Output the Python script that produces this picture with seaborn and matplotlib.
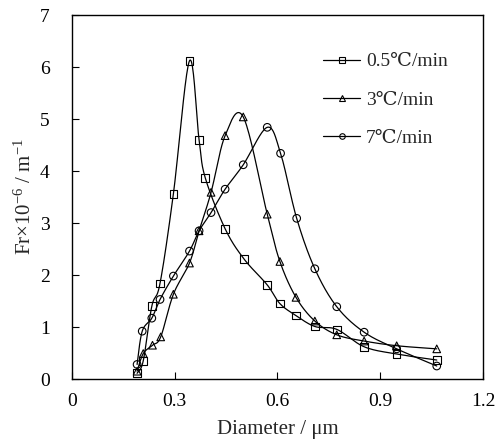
import numpy as np
import pandas as pd
import seaborn as sns
import matplotlib
matplotlib.use("Agg")
import matplotlib.pyplot as plt
from matplotlib.lines import Line2D

# values
x_05 = [0.190, 0.208, 0.233, 0.257, 0.296, 0.343, 0.371, 0.389, 0.447, 0.502,
        0.570, 0.607, 0.654, 0.709, 0.773, 0.853, 0.948, 1.065]
y_05 = [0.11, 0.35, 1.40, 1.84, 3.56, 6.12, 4.60, 3.87, 2.89, 2.31,
        1.81, 1.45, 1.22, 1.01, 0.955, 0.62, 0.48, 0.365]

x_3 = [0.190, 0.208, 0.235, 0.259, 0.296, 0.343, 0.371, 0.406, 0.447, 0.500,
       0.570, 0.607, 0.654, 0.709, 0.773, 0.853, 0.948, 1.065]
y_3 = [0.15, 0.49, 0.65, 0.81, 1.63, 2.23, 2.85, 3.59, 4.68, 5.04,
       3.17, 2.26, 1.57, 1.115, 0.85, 0.73, 0.64, 0.58]

x_7 = [0.190, 0.205, 0.233, 0.257, 0.296, 0.343, 0.371, 0.406, 0.447, 0.500,
       0.570, 0.609, 0.656, 0.709, 0.773, 0.853, 0.948, 1.065]
y_7 = [0.28, 0.92, 1.17, 1.53, 1.98, 2.46, 2.85, 3.20, 3.65, 4.12,
       4.84, 4.34, 3.09, 2.12, 1.39, 0.90, 0.58, 0.25]

labels = ["0.5℃/min", "3℃/min", "7℃/min"]
markers = ["s", "^", "o"]
x_ticks = [0, 0.3, 0.6, 0.9, 1.2]
y_ticks = [0, 1, 2, 3, 4, 5, 6, 7]


def smooth(xs, ys, n=20):
    # excel style smoothed line: uniform catmull-rom through the points
    p = np.column_stack([xs, ys]).astype(float)
    p = np.vstack([p[0], p, p[-1]])
    out = []
    t = np.linspace(0, 1, n, endpoint=False)[:, None]
    for i in range(1, len(p) - 2):
        p0, p1, p2, p3 = p[i - 1], p[i], p[i + 1], p[i + 2]
        c1 = p1 + (p2 - p0) / 6
        c2 = p2 - (p3 - p1) / 6
        seg = ((1 - t) ** 3) * p1 + 3 * ((1 - t) ** 2) * t * c1 + 3 * (1 - t) * t ** 2 * c2 + t ** 3 * p2
        out.append(seg)
    out.append(p[-2][None, :])
    out = np.vstack(out)
    return out[:, 0], out[:, 1]


sns.set_style("ticks")
plt.rcParams["font.family"] = ["Liberation Serif", "DejaVu Serif"]
plt.rcParams["mathtext.fontset"] = "custom"
plt.rcParams["mathtext.rm"] = "Liberation Serif"
plt.rcParams["mathtext.it"] = "Liberation Serif:italic"

fig = plt.figure(figsize=(4.97, 4.40), dpi=100)
ax = fig.add_axes([0.1449, 0.1386, 0.8269, 0.8273])

series = [(x_05, y_05), (x_3, y_3), (x_7, y_7)]
handles = []
for (xs, ys), lab, mk in zip(series, labels, markers):
    sx, sy = smooth(xs, ys)
    curve = pd.DataFrame({"x": sx, "y": sy})
    pts = pd.DataFrame({"x": xs, "y": ys})
    sns.lineplot(data=curve, x="x", y="y", ax=ax, color="black", lw=0.9,
                 sort=False, estimator=None)
    sns.scatterplot(data=pts, x="x", y="y", ax=ax, marker=mk, s=30,
                    facecolor="none", edgecolor="black", linewidth=0.8, zorder=3)
    handles.append(Line2D([], [], color="black", lw=0.9, marker=mk, markersize=4,
                          mfc="none", mec="black", mew=0.8))

ax.set_xlim(0, 1.2)
ax.set_ylim(0, 7)
ax.set_xticks(x_ticks)
ax.set_xticklabels(["0", "0.3", "0.6", "0.9", "1.2"])
ax.set_yticks(y_ticks)
ax.tick_params(direction="in", length=5, width=0.8, labelsize=14, colors="black")
ax.tick_params(axis="x", pad=10)
ax.tick_params(axis="y", pad=16)
for s in ax.spines.values():
    s.set_visible(True)
    s.set_linewidth(1.0)
    s.set_color("black")

ax.set_xlabel("Diameter / μm", fontsize=15, labelpad=7)
ax.set_ylabel("Fr×10$^{-6}$ / m$^{-1}$", fontsize=15, labelpad=3)

ax.legend(handles, labels, loc="upper left", bbox_to_anchor=(0.611, 0.896),
          frameon=False, fontsize=14, borderpad=0, borderaxespad=0,
          handlelength=1.9, handletextpad=0.3, labelspacing=1.05)

fig.savefig("out.png", dpi=100)
